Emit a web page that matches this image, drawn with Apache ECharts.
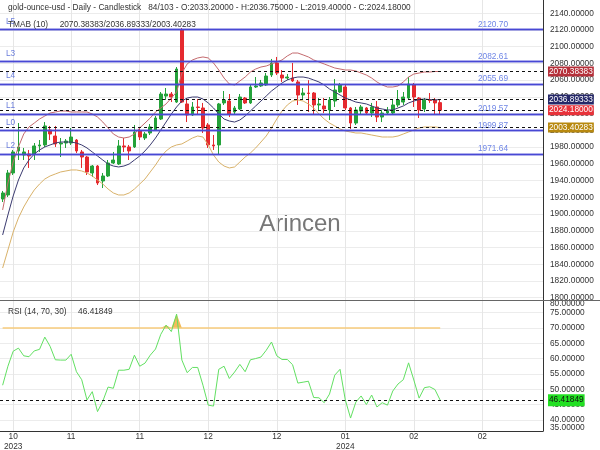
<!DOCTYPE html>
<html><head><meta charset="utf-8">
<script src="https://cdn.jsdelivr.net/npm/echarts@6/dist/echarts.min.js"></script>
<style>html,body{margin:0;padding:0;background:#fff}#c{width:600px;height:450px}</style>
</head><body><div id="c"></div>
<script>
const FONT = "'Liberation Sans', Arial, sans-serif";
const SLOT_COUNT = 103;
const tickIndex = [2, 13, 26, 39, 52, 65, 78, 91];
const tickLabels = ['10\n2023', '11', '11', '12', '12', '01\n2024', '02', '02'];

const opens = [1918.0,1922.8,1949.1,1975.4,1970.6,1971.8,1971.8,1981.4,1982.6,2000.5,
1993.3,1983.8,1984.9,1984.9,1988.5,1974.2,1968.2,1949.1,1957.4,1939.5,
1945.5,1961.0,1959.8,1981.4,1980.2,1980.2,1999.3,1990.9,1996.9,2000.5,
2013.6,2041.1,2043.5,2033.9,2120.0,2031.6,2018.4,2028.0,2026.8,2006.5,
1982.6,1982.6,2032.8,2035.1,2022.0,2025.6,2038.7,2032.8,2051.9,2053.1,
2054.3,2066.2,2080.6,2066.2,2062.6,2062.6,2057.9,2042.3,2044.7,2044.7,
2030.4,2029.2,2024.4,2035.1,2045.9,2051.9,2026.8,2008.8,2023.2,2026.8,
2020.8,2028.0,2016.0,2020.8,2020.8,2030.4,2033.9,2038.7,2054.3,2038.7,
2025.6,2036.4,2036.4,2033.2];
const highs = [1927.6,1952.7,1976.6,2008.8,1979.0,1976.6,1984.9,1988.5,2010.0,2005.3,
2005.3,1990.9,1989.7,2002.9,1989.7,1976.6,1969.4,1958.6,1958.6,1949.1,
1964.6,1974.2,1988.5,1990.9,1982.6,2006.5,2004.1,1998.1,2007.6,2017.2,
2045.9,2050.7,2045.9,2075.8,2122.4,2038.7,2033.9,2037.5,2032.8,2008.8,
1994.5,2032.8,2047.1,2043.5,2029.2,2043.5,2039.9,2054.3,2063.8,2060.3,
2068.6,2085.4,2087.8,2072.2,2067.4,2080.6,2060.3,2050.7,2060.0,2045.9,
2038.7,2038.7,2039.9,2061.4,2056.7,2054.3,2028.0,2028.0,2030.4,2028.0,
2032.8,2035.1,2024.4,2028.0,2036.4,2048.3,2045.9,2063.8,2056.7,2039.9,
2038.7,2044.7,2038.7,2036.75];
const lows = [1914.4,1920.4,1946.7,1964.6,1964.6,1955.1,1964.6,1974.2,1980.2,1988.5,
1980.2,1968.2,1979.0,1982.6,1973.0,1955.1,1946.7,1944.3,1934.7,1931.1,
1944.3,1959.8,1958.6,1974.2,1964.6,1979.0,1988.5,1988.5,1994.5,1999.3,
2012.4,2036.4,2033.9,2032.8,2032.8,2010.0,2017.2,2018.4,1996.9,1979.0,
1976.6,1970.6,2030.4,2016.0,2019.6,2024.4,2031.6,2031.6,2050.7,2052.0,
2053.1,2063.8,2066.2,2057.9,2060.3,2057.9,2030.4,2036.4,2022.0,2018.4,
2024.4,2020.8,2012.4,2028.0,2044.7,2024.4,2001.7,2006.5,2018.4,2018.4,
2016.0,2010.0,2010.0,2018.4,2018.4,2028.0,2030.4,2036.4,2028.0,2014.8,
2022.0,2032.8,2018.4,2019.4];
const closes = [1925.2,1949.1,1974.2,1980.2,1974.2,1969.4,1981.4,1982.6,2005.3,1995.7,
1983.8,1984.9,1987.3,1992.1,1975.4,1968.2,1950.3,1957.4,1937.1,1945.5,
1961.0,1964.6,1981.4,1980.2,1975.4,1998.1,1992.1,1995.7,2004.1,2014.8,
2043.5,2043.5,2039.9,2073.4,2033.9,2018.4,2028.0,2027.4,2002.9,1982.6,
1981.4,2031.6,2036.4,2019.6,2026.8,2039.9,2032.8,2051.9,2053.1,2056.7,
2065.0,2080.6,2068.6,2062.6,2063.8,2059.1,2042.3,2044.7,2044.1,2030.4,
2031.6,2025.6,2036.4,2048.3,2054.3,2026.8,2008.8,2024.4,2028.0,2020.8,
2028.0,2016.0,2020.8,2023.2,2030.4,2036.4,2039.9,2055.5,2039.9,2024.4,
2036.4,2035.8,2032.8,2024.18];

const tmaUpper = [1904.9,1937.1,1962.2,1980.2,1995.7,2004.1,2008.8,2013.6,2017.2,2020.8,
2022.0,2023.2,2023.2,2022.0,2022.0,2022.0,2022.0,2019.6,2016.0,2010.0,
2002.9,1995.7,1992.1,1990.9,1992.1,1995.7,2002.9,2008.8,2014.8,2022.0,
2026.8,2031.6,2038.7,2045.9,2068.6,2079.4,2084.2,2086.6,2087.8,2086.6,
2080.6,2072.2,2062.6,2055.5,2054.3,2059.1,2063.8,2069.8,2073.4,2075.8,
2077.0,2079.4,2081.8,2084.2,2089.0,2092.5,2092.5,2090.2,2087.8,2084.2,
2081.8,2079.4,2077.0,2074.6,2073.4,2072.2,2072.2,2071.0,2068.6,2066.2,
2062.6,2057.9,2054.3,2051.9,2051.9,2053.1,2057.9,2063.8,2067.4,2068.6,
2069.8,2069.8,2070.4,2070.38383];
const tmaMid = [1875.0,1898.9,1921.6,1940.7,1955.1,1964.6,1971.8,1976.6,1980.2,1982.6,
1984.9,1986.1,1986.1,1986.1,1984.9,1982.6,1979.0,1974.2,1969.4,1964.6,
1959.8,1957.4,1956.3,1957.4,1959.8,1964.6,1969.4,1975.4,1982.6,1990.9,
2000.5,2010.0,2019.6,2028.0,2035.1,2038.7,2039.9,2039.9,2037.5,2032.8,
2026.8,2019.6,2013.6,2011.2,2010.0,2012.4,2017.2,2023.2,2029.2,2035.1,
2041.1,2047.1,2051.9,2056.7,2060.3,2062.6,2063.8,2063.8,2062.6,2060.3,
2057.9,2054.3,2049.5,2045.9,2042.3,2038.7,2036.4,2033.9,2032.8,2031.6,
2029.2,2026.8,2025.6,2024.4,2024.4,2026.8,2029.2,2032.8,2035.1,2036.9,
2037.5,2036.9,2036.4,2036.89333];
const tmaLower = [1835.5,1857.0,1878.5,1895.3,1908.4,1919.2,1928.8,1935.9,1941.9,1945.5,
1947.9,1950.3,1951.5,1952.7,1952.7,1951.5,1949.1,1945.5,1940.7,1935.9,
1929.9,1925.2,1922.8,1922.8,1925.2,1929.9,1935.9,1941.9,1950.3,1958.6,
1968.2,1975.4,1980.2,1982.6,1983.8,1987.3,1990.9,1993.3,1992.1,1982.6,
1970.6,1962.2,1957.4,1955.1,1956.3,1962.2,1968.2,1973.0,1979.0,1986.1,
1993.3,2002.9,2013.6,2023.2,2030.4,2035.1,2036.4,2035.1,2031.6,2026.8,
2019.6,2013.6,2008.8,2005.3,2001.7,1999.3,1998.1,1996.9,1996.9,1995.7,
1994.5,1993.3,1992.1,1992.1,1992.1,1993.3,1995.7,1998.1,2000.5,2002.9,
2004.1,2004.1,2004.1,2003.40283];

const rsi = [51.3,57.5,62.4,63.4,60.9,60.6,62.5,63.0,67.0,64.0,
59.6,59.5,59.5,61.4,55.7,53.1,46.5,49.2,42.7,46.1,
50.7,50.3,56.2,56.2,56.5,61.1,57.5,58.5,61.1,63.1,
67.9,70.9,68.8,74.5,59.5,55.4,57.1,57.1,51.3,44.8,
44.5,56.5,57.5,53.5,55.6,58.1,55.7,59.6,60.0,60.5,
62.7,65.4,60.9,59.7,59.7,58.0,52.0,52.3,52.6,47.3,
47.2,45.6,48.4,54.6,56.5,46.5,40.6,45.8,47.8,45.0,
48.1,44.2,45.6,44.8,49.4,51.7,53.1,58.6,53.0,47.1,
50.5,50.8,49.9,46.41849];
const RSI_OVERBOUGHT = 70;

const levelNames = ['L5', 'L3', 'L4', 'L1', 'L0', 'L2'];
const levelValues = [2120.70, 2082.61, 2055.69, 2019.57, 1999.87, 1971.64];

const categories = Array.from({length: SLOT_COUNT}, (_, i) => String(i));
const n = closes.length;
const last = n - 1;
const sp = (k) => '\u00a0'.repeat(k);

const candleData = opens.map((o, i) => [o, closes[i], lows[i], highs[i]]);
const rsiOver = rsi.map(v => Math.max(v, RSI_OVERBOUGHT));
const rsiLine70 = rsi.map(() => RSI_OVERBOUGHT);

const headerText = 'gold-ounce-usd - Daily - Candlestick' + sp(3) + n + '/' + SLOT_COUNT +
  ' - O:' + opens[last].toFixed(5) + ' - H:' + highs[last].toFixed(5) +
  ' - L:' + lows[last].toFixed(5) + ' - C:' + closes[last].toFixed(5);
const tmaText = 'TMAB (10)' + sp(5) + tmaUpper[last].toFixed(5) + '/' + tmaMid[last].toFixed(5) + '/' + tmaLower[last].toFixed(5);
const rsiText = 'RSI (14, 70, 30)' + sp(5) + rsi[last].toFixed(5);

const FS = 8.3;
const dashStyle = {color: '#111', type: [3, 3], width: 1};
function badge(value, bg, fg, pad) {
  return {
    yAxis: value,
    lineStyle: dashStyle,
    label: {show: true, position: 'end', distance: 5, formatter: value.toFixed(5),
      backgroundColor: bg, color: fg || '#fff', padding: pad || [1, 1, 0, 1], fontSize: FS, fontFamily: FONT, lineHeight: 9}
  };
}

const levelMarks = [];
levelValues.forEach((v, k) => {
  const ls = {color: '#4848d4', width: 1.4, type: 'solid'};
  levelMarks.push({yAxis: v, lineStyle: ls,
    label: {show: true, position: 'insideStartTop', distance: [6, 4], formatter: levelNames[k], color: '#6a7ddb', fontSize: FS, fontFamily: FONT}});
  levelMarks.push({yAxis: v, lineStyle: ls,
    label: {show: true, position: 'insideEndTop', distance: [35, 1], formatter: v.toFixed(2), color: '#6f86e6', fontSize: FS, fontFamily: FONT}});
});
levelMarks.push(badge(closes[last], '#e8323a'));

const MAIN_MIN = 1797.25, MAIN_MAX = 2160;
const RSI_MIN = 36.37, RSI_MAX = 79.1;

const splitX = {show: true, interval: (i) => tickIndex.includes(i), alignWithLabel: true, lineStyle: {color: '#e6e6e6'}};

const option = {
  animation: false,
  backgroundColor: '#fff',
  textStyle: {fontFamily: FONT},
  title: [
    {text: headerText, left: 8, top: 3.5, padding: 0, textStyle: {fontSize: FS, fontWeight: 'normal', color: '#333', fontFamily: FONT}},
    {text: tmaText, left: 8, top: 20.5, padding: 0, textStyle: {fontSize: FS, fontWeight: 'normal', color: '#333', fontFamily: FONT}},
    {text: rsiText, left: 8, top: 307.5, padding: 0, textStyle: {fontSize: FS, fontWeight: 'normal', color: '#333', fontFamily: FONT}}
  ],
  grid: [
    {left: 0, right: 57, top: -3.44, height: 303.44, containLabel: false, outerBoundsMode: 'none'},
    {left: 0, right: 57, top: 300, height: 131, containLabel: false, outerBoundsMode: 'none'}
  ],
  xAxis: [
    {type: 'category', gridIndex: 0, data: categories, boundaryGap: true,
      axisLine: {show: false}, axisTick: {show: false}, axisLabel: {show: false}, splitLine: splitX},
    {type: 'category', gridIndex: 1, data: categories, boundaryGap: true,
      axisLine: {show: true, lineStyle: {color: '#333'}}, axisTick: {show: false},
      axisLabel: {show: true, interval: (i) => tickIndex.includes(i), formatter: (v, i) => {
        const k = tickIndex.indexOf(i); return k >= 0 ? tickLabels[k] : ''; },
        color: '#333', fontSize: FS, fontFamily: FONT, lineHeight: 10, margin: 1},
      splitLine: splitX}
  ],
  yAxis: [
    {type: 'value', gridIndex: 0, position: 'right', min: MAIN_MIN, max: MAIN_MAX, minInterval: 20, maxInterval: 20,
      axisLine: {show: true, lineStyle: {color: '#333'}}, axisTick: {show: false},
      axisLabel: {color: '#333', fontSize: FS, fontFamily: FONT, margin: 7, hideOverlap: false,
        formatter: (v) => Math.abs(v / 20 - Math.round(v / 20)) < 1e-6 ? v.toFixed(5) : ''},
      splitLine: {show: true, lineStyle: {color: '#ececec'}}},
    {type: 'value', gridIndex: 1, position: 'right', min: RSI_MIN, max: RSI_MAX, minInterval: 5, maxInterval: 5,
      axisLine: {show: true, lineStyle: {color: '#333'}}, axisTick: {show: false},
      axisLabel: {color: '#333', fontSize: FS, fontFamily: FONT, margin: 7, lineHeight: 6.5,
        showMinLabel: true, showMaxLabel: true, hideOverlap: false,
        verticalAlignMinLabel: 'bottom', verticalAlignMaxLabel: 'top',
        formatter: (v) => {
          if (Math.abs(v - RSI_MIN) < 1e-6) return (Math.floor(RSI_MIN / 5) * 5).toFixed(5);
          if (Math.abs(v - RSI_MAX) < 1e-6) return (Math.ceil(RSI_MAX / 5) * 5).toFixed(5);
          return v.toFixed(5);
        }},
      splitLine: {show: true, lineStyle: {color: '#ececec'}}}
  ],
  series: [
    {type: 'candlestick', xAxisIndex: 0, yAxisIndex: 0, data: candleData, barWidth: '62%',
      itemStyle: {color: '#24a23a', color0: '#e52a2f', borderColor: '#24a23a', borderColor0: '#e52a2f', borderWidth: 1},
      markLine: {silent: true, symbol: ['none', 'none'], animation: false, data: levelMarks}},
    {type: 'line', name: 'upper', xAxisIndex: 0, yAxisIndex: 0, data: tmaUpper, symbol: 'none', lineStyle: {width: 1, color: '#c46a6e'},
      markLine: {silent: true, symbol: ['none', 'none'], data: [badge(tmaUpper[last], '#b5303a')]}},
    {type: 'line', name: 'mid', xAxisIndex: 0, yAxisIndex: 0, data: tmaMid, symbol: 'none', lineStyle: {width: 1, color: '#3b3b70'},
      markLine: {silent: true, symbol: ['none', 'none'], data: [badge(tmaMid[last], '#252868')]}},
    {type: 'line', name: 'lower', xAxisIndex: 0, yAxisIndex: 0, data: tmaLower, symbol: 'none', lineStyle: {width: 1, color: '#d9b26a'},
      markLine: {silent: true, symbol: ['none', 'none'], data: [badge(tmaLower[last], '#b8890f')]}},
    {type: 'line', name: 'rsiFill', xAxisIndex: 1, yAxisIndex: 1, data: rsiOver, symbol: 'none',
      lineStyle: {width: 0, opacity: 0}, areaStyle: {color: '#f2b548', opacity: 0.9, origin: RSI_OVERBOUGHT}},
    {type: 'line', name: 'rsi70', xAxisIndex: 1, yAxisIndex: 1, data: rsiLine70, symbol: 'none',
      lineStyle: {width: 1.5, color: '#f7cc7c'}},
    {type: 'line', name: 'rsi', xAxisIndex: 1, yAxisIndex: 1, data: rsi, symbol: 'none', lineStyle: {width: 1, color: '#62e062'},
      markLine: {silent: true, symbol: ['none', 'none'], data: [badge(rsi[last], '#22e022', '#111', [2, 1, 1, 1])]}}
  ],
  graphic: [
    {type: 'text', x: 300, y: 224, z: 0, silent: true,
      style: {text: 'Arincen', fill: '#777', fontSize: 24, fontFamily: FONT, align: 'center', verticalAlign: 'middle'}},
    {type: 'line', z: 50, silent: true, shape: {x1: 0, y1: 300.5, x2: 600, y2: 300.5}, style: {stroke: '#666', lineWidth: 1}}
  ]
};

const chart = echarts.init(document.getElementById('c'), null, {renderer: 'canvas'});
chart.setOption(option);
</script></body></html>
